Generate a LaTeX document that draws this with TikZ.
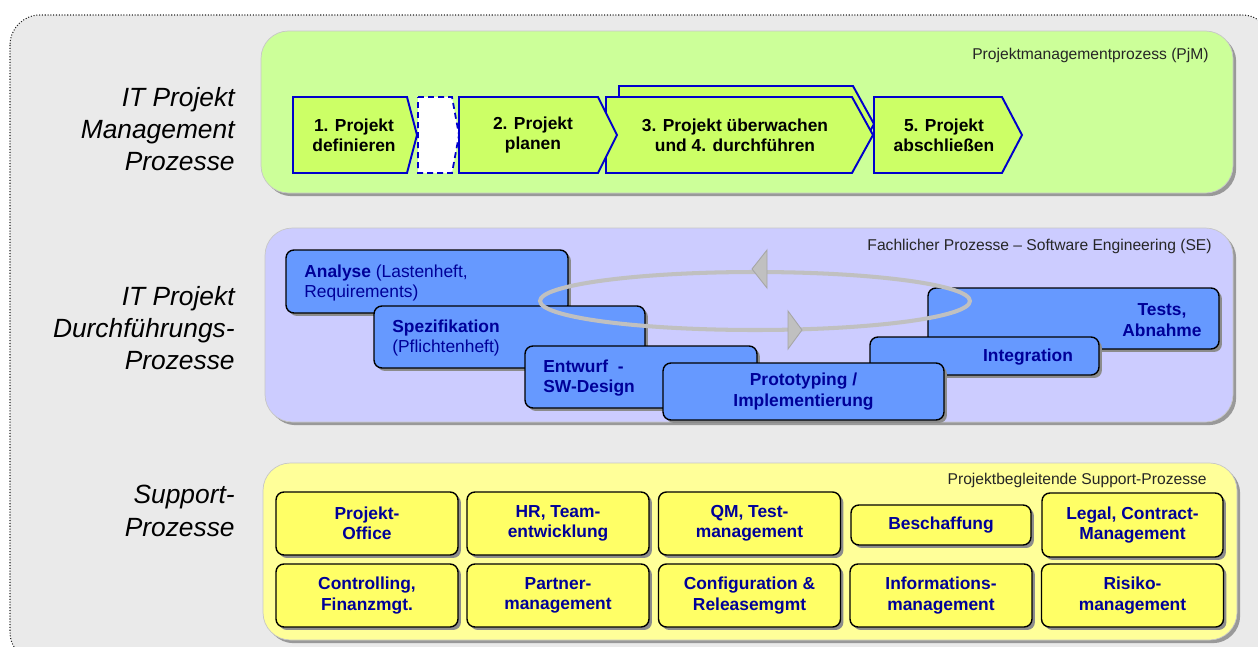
\documentclass[tikz,border=0pt]{standalone}
\usepackage{fontspec}
\setmainfont{Liberation Sans}
\usetikzlibrary{shapes.geometric, shadows, positioning}

\definecolor{bgGray}{HTML}{EAEAEA}
\definecolor{pjmGreen}{HTML}{CCFF99}
\definecolor{chevGreen}{HTML}{CCFF66}
\definecolor{chevBlue}{HTML}{0000CC}
\definecolor{seLilac}{HTML}{CCCCFF}
\definecolor{seBlue}{HTML}{6699FF}
\definecolor{supYellow}{HTML}{FFFF99}
\definecolor{boxYellow}{HTML}{FFFF66}
\definecolor{textBlue}{HTML}{000099}
\definecolor{loopGray}{HTML}{C0C0C0}

\tikzstyle{outer} = [rounded corners=0.6cm, draw=black!85, densely dotted, line width=0.6pt, fill=bgGray]
\tikzstyle{panel} = [rounded corners=0.55cm, draw=black!22, line width=0.4pt, drop shadow={shadow xshift=1.8pt, shadow yshift=-1.8pt, fill=black!40, opacity=1}]
\tikzstyle{paneltitle} = [anchor=east, inner sep=0pt, text=black!85, font=\fontsize{8.9}{10}\selectfont]
\tikzstyle{phase} = [anchor=east, align=right, inner sep=0pt, font=\itshape\fontsize{15}{18.4}\selectfont]
\tikzstyle{chevron} = [draw=chevBlue, line width=1.1pt, fill=chevGreen, line join=miter]
\tikzstyle{gap} = [draw=chevBlue, line width=1pt, dash pattern=on 3.4pt off 2.3pt, fill=white]
\tikzstyle{chevtext} = [align=center, inner sep=0pt, font=\bfseries\fontsize{9.9}{11.6}\selectfont]
\tikzstyle{sebox} = [rectangle, rounded corners=4.5pt, draw=black, line width=0.8pt, fill=seBlue, drop shadow={shadow xshift=1.7pt, shadow yshift=-1.7pt, fill=black!45, opacity=1}]
\tikzstyle{setext} = [inner sep=0pt, text=textBlue, font=\fontsize{9.9}{11.6}\selectfont]
\tikzstyle{supbox} = [rectangle, rounded corners=4.5pt, minimum width=3.64cm, minimum height=1.26cm, draw=black, line width=0.8pt, fill=boxYellow, text=textBlue, align=center, font=\bfseries\fontsize{9.9}{11.6}\selectfont, drop shadow={shadow xshift=1.7pt, shadow yshift=-1.7pt, fill=black!45, opacity=1}]
\tikzstyle{loop} = [draw=loopGray, line width=2.3pt]
\tikzstyle{looptip} = [fill=loopGray, draw=black!35, line width=0.5pt, line join=miter]

\begin{document}
\begin{tikzpicture}[x=0.02cm, y=-0.02cm]

\useasboundingbox (0,0) rectangle (1258,646);
\clip (0,0) rectangle (1258,646);
\draw [outer] (10,15) rectangle (1272,662);

% phase labels
\node at (235,129) (pmlabel) [phase] {IT Projekt\\Management\\Prozesse};
\node at (235,328) (selabel) [phase] {IT Projekt\\Durchführungs-\\Prozesse};
\node at (235,511) (suplabel) [phase] {Support-\\Prozesse};

% project management
\draw [panel, fill=pjmGreen] (261,31) rectangle (1233,193);
\node at (1209,55) (pjmtitle) [paneltitle] {Projektmanagementprozess (PjM)};

\draw [chevron] (293,97) -- (407,97) -- (417,135) -- (407,173) -- (293,173) -- cycle;
\node at (354,135) (definieren) [chevtext] {1. Projekt\\definieren};
\draw [gap] (418,97) -- (452,97) -- (459,135) -- (452,173) -- (418,173) -- cycle;
\draw [chevron] (619,86) -- (853,86) -- (874,124) -- (853,162) -- (619,162) -- cycle;
\draw [chevron] (606,97) -- (852,97) -- (873,135) -- (852,173) -- (606,173) -- cycle;
\node at (735,135) (ueberwachen) [chevtext] {3. Projekt überwachen\\und 4. durchführen};
\draw [chevron] (459,97) -- (598,97) -- (617,135) -- (598,173) -- (459,173) -- cycle;
\node at (533,135) (planen) [chevtext] {2. Projekt\\planen};
\draw [chevron] (874,97) -- (1002,97) -- (1022,135) -- (1002,173) -- (874,173) -- cycle;
\node at (944,135) (abschliessen) [chevtext] {5. Projekt\\abschließen};

% software engineering
\draw [panel, fill=seLilac] (265,228) rectangle (1233,422);
\node at (1212,246) (setitle) [paneltitle] {Fachlicher Prozesse – Software Engineering (SE)};

\node at (1073.5,318.5) (tests) [sebox, minimum width=5.82cm, minimum height=1.22cm] {};
\node at (1162,320) (teststext) [setext, align=center, font=\bfseries\fontsize{9.9}{11.6}\selectfont] {Tests,\\Abnahme};
\node at (984.5,356) (integration) [sebox, minimum width=4.58cm, minimum height=0.76cm] {};
\node at (1028,357) (integrationtext) [setext, font=\bfseries\fontsize{9.9}{11.6}\selectfont] {Integration};
\node at (427,281.5) (analyse) [sebox, minimum width=5.64cm, minimum height=1.26cm] {};
\node at (304,283) (analysetext) [setext, anchor=west, align=left] {\textbf{Analyse} (Lastenheft,\\Requirements)};
\node at (509.5,337) (spezifikation) [sebox, minimum width=5.42cm, minimum height=1.24cm] {};
\node at (392,338) (spezifikationtext) [setext, anchor=west, align=left] {\textbf{Spezifikation}\\(Pflichtenheft)};
\node at (641,377) (entwurf) [sebox, minimum width=4.64cm, minimum height=1.24cm] {};
\node at (543,378) (entwurftext) [setext, anchor=west, align=left, font=\bfseries\fontsize{9.9}{11.6}\selectfont] {Entwurf\ \ -\\SW-Design};
\node at (803.5,391.5) (prototyping) [sebox, minimum width=5.62cm, minimum height=1.14cm, text=textBlue, align=center, font=\bfseries\fontsize{9.9}{11.6}\selectfont] {Prototyping /\\Implementierung};

% iteration loop
\draw [loop] (755,301) ellipse [x radius=4.3cm, y radius=0.58cm];
\draw [looptip] (752,269) -- (767,250) -- (767,288) -- cycle;
\draw [looptip] (802,330) -- (788,311) -- (788,349) -- cycle;

% support
\draw [panel, fill=supYellow] (263,463) rectangle (1237,640);
\node at (1207,480) (suptitle) [paneltitle] {Projektbegleitende Support-Prozesse};

\node at (367,523.5) (office) [supbox] {Projekt-\\Office};
\node at (558,523.5) (hr) [supbox] {HR, Team-\\entwicklung};
\node at (749.5,523.5) (qm) [supbox] {QM, Test-\\management};
\node at (941,525) (beschaffung) [supbox, minimum width=3.6cm, minimum height=0.8cm] {Beschaffung};
\node at (1132.5,525) (legal) [supbox, minimum width=3.62cm, minimum height=1.28cm] {Legal, Contract-\\Management};

\node at (367,595.5) (controlling) [supbox] {Controlling,\\Finanzmgt.};
\node at (558,595.5) (partner) [supbox] {Partner-\\management};
\node at (749.5,595.5) (config) [supbox] {Configuration \&\\Releasemgmt};
\node at (941,595.5) (info) [supbox] {Informations-\\management};
\node at (1132.5,595.5) (risiko) [supbox] {Risiko-\\management};

\end{tikzpicture}
\end{document}
